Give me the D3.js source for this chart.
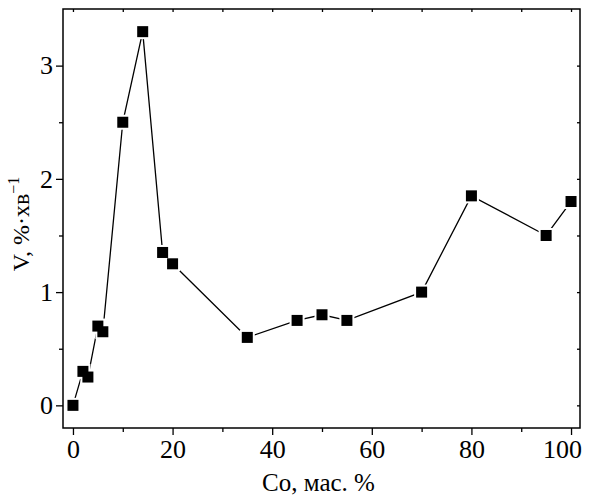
<!DOCTYPE html>
<html>
<head>
<meta charset="utf-8">
<script src="https://cdn.jsdelivr.net/npm/d3@7"></script>
<style>
  body { margin: 0; background: #fff; }
  svg { display: block; }
</style>
</head>
<body>
<script>
// Co content (mass %) and rate V (%/min)
const coContent = [0, 2, 3, 5, 6, 10, 14, 18, 20, 35, 45, 50, 55, 70, 80, 95, 100];
const rateV = [0, 0.3, 0.25, 0.7, 0.65, 2.5, 3.3, 1.35, 1.25, 0.6, 0.75, 0.8, 0.75, 1.0, 1.85, 1.5, 1.8];
const xTicks = [0, 20, 40, 60, 80, 100];
const yTicks = [0, 1, 2, 3];

const W = 589, H = 495;
const margin = {top: 9, right: 9, bottom: 67, left: 63};
const width = W - margin.left - margin.right;
const height = H - margin.top - margin.bottom;

const svg = d3.select("body").append("svg")
    .attr("width", W)
    .attr("height", H);

const g = svg.append("g")
    .attr("transform", "translate(" + margin.left + "," + margin.top + ")");

const xScale = d3.scaleLinear().domain([-2, 101.8]).range([0, width]);
const yScale = d3.scaleLinear().domain([-0.2, 3.5]).range([height, 0]);

const font = '"Liberation Serif", "Times New Roman", serif';
const minorX = d3.range(10, 101, 20);
const minorY = [0.5, 1.5, 2.5];

function styleAxis(sel) {
    sel.select(".domain").remove();
    sel.selectAll("line").attr("stroke", "#000").attr("stroke-width", 1.3);
    sel.selectAll("text")
        .style("font-family", font)
        .style("font-size", "26px")
        .attr("fill", "#000");
}

// bottom axis, major + minor
const xAxisG = g.append("g")
    .attr("transform", "translate(0," + height + ")")
    .call(d3.axisBottom(xScale).tickValues(xTicks).tickSize(7).tickPadding(5).tickFormat(d3.format("d")))
    .call(styleAxis);
// last label is pulled in a little so it stays inside the page
xAxisG.selectAll(".tick text").filter(d => d === 100).attr("dx", -9);

g.append("g")
    .attr("transform", "translate(0," + height + ")")
    .call(d3.axisBottom(xScale).tickValues(minorX).tickSize(4).tickFormat(""))
    .call(styleAxis);

// left axis, major + minor
g.append("g")
    .call(d3.axisLeft(yScale).tickValues(yTicks).tickSize(7).tickPadding(3).tickFormat(d3.format("d")))
    .call(styleAxis);
g.append("g")
    .call(d3.axisLeft(yScale).tickValues(minorY).tickSize(4).tickFormat(""))
    .call(styleAxis);

// mirror ticks inside on top and right
g.append("g")
    .call(d3.axisBottom(xScale).tickValues(xTicks.concat(minorX)).tickSize(3).tickFormat(""))
    .call(styleAxis);
g.append("g")
    .attr("transform", "translate(" + width + ",0)")
    .call(d3.axisLeft(yScale).tickValues(yTicks.concat(minorY)).tickSize(3).tickFormat(""))
    .call(styleAxis);

// frame
g.append("rect")
    .attr("width", width)
    .attr("height", height)
    .attr("fill", "none")
    .attr("stroke", "#000")
    .attr("stroke-width", 1.5);

const points = coContent.map((c, i) => ({x: c, y: rateV[i]}));

const line = d3.line()
    .x(d => xScale(d.x))
    .y(d => yScale(d.y));

g.append("path")
    .datum(points)
    .attr("d", line)
    .attr("fill", "none")
    .attr("stroke", "#000")
    .attr("stroke-width", 1.3);

const size = 11;
// white halo to leave a small gap between line and marker
g.selectAll(".halo")
    .data(points)
    .enter()
    .append("rect")
    .attr("x", d => xScale(d.x) - size / 2 - 2)
    .attr("y", d => yScale(d.y) - size / 2 - 2)
    .attr("width", size + 4)
    .attr("height", size + 4)
    .attr("fill", "#fff");

g.selectAll(".marker")
    .data(points)
    .enter()
    .append("rect")
    .attr("x", d => xScale(d.x) - size / 2)
    .attr("y", d => yScale(d.y) - size / 2)
    .attr("width", size)
    .attr("height", size)
    .attr("fill", "#000");

// axis titles
svg.append("text")
    .attr("x", margin.left + width / 2 - 3)
    .attr("y", 491)
    .attr("text-anchor", "middle")
    .style("font-family", font)
    .style("font-size", "25px")
    .text("Co, мас. %");

const yTitle = svg.append("text")
    .attr("transform", "translate(29," + 224 + ") rotate(-90)")
    .attr("text-anchor", "middle")
    .style("font-family", font)
    .style("font-size", "24px");
yTitle.append("tspan").text("V, %·хв");
yTitle.append("tspan").attr("dy", -10).style("font-size", "16px").text("−1");
</script>
</body>
</html>
